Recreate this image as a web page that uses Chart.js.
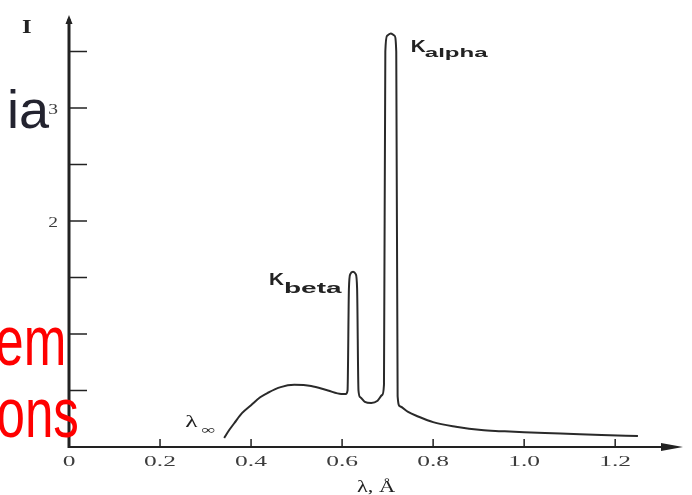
<!DOCTYPE html>
<html>
<head>
<meta charset="utf-8">
<script src="https://cdn.jsdelivr.net/npm/chart.js@4.4.1/dist/chart.umd.min.js"></script>
<style>
html, body { margin: 0; padding: 0; background: #fff; }
#wrap { position: relative; width: 692px; height: 495px; overflow: hidden; }
#spectrum { position: absolute; left: 0; top: 0; }
.slide { position: absolute; font-family: 'Liberation Sans', Arial, sans-serif; line-height: 1; white-space: nowrap; }
.squeezed { transform: scaleX(0.73); transform-origin: right top; }
</style>
</head>
<body>
<div id="wrap">
  <canvas id="spectrum" width="692" height="495"></canvas>
  <div class="slide" style="right:643px;top:82px;font-size:54px;color:#23232f">ia</div>
  <div class="slide squeezed" style="right:626px;top:306px;font-size:70px;color:#ff0000">em</div>
  <div class="slide squeezed" style="right:613px;top:378px;font-size:70px;color:#ff0000">ons</div>
</div>
<script>
// wavelength (Å) and relative intensity
const wavelength = [0.341, 0.352, 0.363, 0.380, 0.400, 0.420, 0.437, 0.465, 0.495, 0.532,
  0.569, 0.598, 0.608, 0.612, 0.615, 0.618, 0.624, 0.630, 0.633, 0.636,
  0.640, 0.650, 0.664, 0.678, 0.688, 0.692, 0.695, 0.699, 0.707, 0.715,
  0.719, 0.722, 0.727, 0.745, 0.767, 0.800, 0.850, 0.906, 0.950, 1.000,
  1.080, 1.170, 1.250];
const intensity = [0.08, 0.15, 0.21, 0.30, 0.37, 0.44, 0.48, 0.53, 0.55, 0.54,
  0.50, 0.47, 0.47, 0.50, 1.40, 1.53, 1.55, 1.53, 1.40, 0.50,
  0.44, 0.40, 0.39, 0.41, 0.46, 0.55, 3.50, 3.64, 3.66, 3.64,
  3.50, 0.45, 0.36, 0.31, 0.27, 0.22, 0.18, 0.15, 0.14, 0.13,
  0.12, 0.106, 0.097];

const xTickValues = [0, 0.2, 0.4, 0.6, 0.8, 1.0, 1.2];
const xTickLabels = ['0', '0.2', '0.4', '0.6', '0.8', '1.0', '1.2'];
const yTickValues = [0.5, 1, 1.5, 2, 2.5, 3, 3.5];
const yTickLabels = ['', '', '', '2', '', '3', ''];

const ink = '#222222';
const serif = "'Liberation Serif', 'DejaVu Serif', serif";
const sans = "'Liberation Sans', Arial, sans-serif";

// scanned figure text is stretched sideways, so draw it with a horizontal scale
function stretchText(ctx, text, x, y, sx, align) {
  ctx.save();
  ctx.translate(x, y);
  ctx.scale(sx, 1);
  ctx.textAlign = align || 'left';
  ctx.textBaseline = 'alphabetic';
  ctx.fillText(text, 0, 0);
  ctx.restore();
}

const axesPlugin = {
  id: 'axesPlugin',
  beforeDatasetsDraw(chart) {
    const ctx = chart.ctx;
    const xs = chart.scales.x, ys = chart.scales.y;
    const x0 = xs.getPixelForValue(0);
    const y0 = ys.getPixelForValue(0);
    const xEnd = chart.chartArea.right;
    const yTop = chart.chartArea.top;
    ctx.save();
    ctx.strokeStyle = ink;
    ctx.fillStyle = ink;
    // y axis with small arrow
    ctx.lineWidth = 3;
    ctx.beginPath();
    ctx.moveTo(x0, y0 + 1);
    ctx.lineTo(x0, yTop + 4);
    ctx.stroke();
    ctx.beginPath();
    ctx.moveTo(x0, yTop);
    ctx.lineTo(x0 - 3.5, yTop + 9);
    ctx.lineTo(x0 + 3.5, yTop + 9);
    ctx.closePath();
    ctx.fill();
    // x axis with arrow
    ctx.lineWidth = 2;
    ctx.beginPath();
    ctx.moveTo(x0, y0);
    ctx.lineTo(xEnd - 10, y0);
    ctx.stroke();
    ctx.beginPath();
    ctx.moveTo(xEnd, y0);
    ctx.lineTo(xEnd - 22, y0 - 4);
    ctx.lineTo(xEnd - 22, y0 + 4);
    ctx.closePath();
    ctx.fill();
    // inward tick marks
    ctx.lineWidth = 1.5;
    xTickValues.forEach(v => {
      if (v === 0) return;
      const px = xs.getPixelForValue(v);
      ctx.beginPath();
      ctx.moveTo(px, y0);
      ctx.lineTo(px, y0 - 8);
      ctx.stroke();
    });
    yTickValues.forEach(v => {
      const py = ys.getPixelForValue(v);
      ctx.beginPath();
      ctx.moveTo(x0, py);
      ctx.lineTo(x0 + 18, py);
      ctx.stroke();
    });
    // tick labels
    ctx.fillStyle = '#3c3c3c';
    ctx.font = '15px ' + serif;
    xTickValues.forEach((v, i) => {
      stretchText(ctx, xTickLabels[i], xs.getPixelForValue(v), y0 + 19, 1.7, 'center');
    });
    yTickValues.forEach((v, i) => {
      if (!yTickLabels[i]) return;
      stretchText(ctx, yTickLabels[i], x0 - 11, ys.getPixelForValue(v) + 6, 1.3, 'right');
    });
    ctx.restore();
  },
  afterDraw(chart) {
    const ctx = chart.ctx;
    const xs = chart.scales.x, ys = chart.scales.y;
    ctx.save();
    ctx.fillStyle = ink;
    // axis names
    ctx.font = 'bold 19px ' + serif;
    stretchText(ctx, 'I', 22, 33, 1.3);
    ctx.font = '16px ' + serif;
    stretchText(ctx, 'λ, Å', (xs.left + xs.right) / 2, 492, 1.4, 'center');
    // peak labels
    const ax = xs.getPixelForValue(0.707), ay = ys.getPixelForValue(3.66);
    ctx.font = 'bold 17px ' + sans;
    stretchText(ctx, 'K', ax + 20, ay + 19, 1.22);
    ctx.font = 'bold 13px ' + sans;
    stretchText(ctx, 'alpha', ax + 34, ay + 24, 1.85);
    const bx = xs.getPixelForValue(0.624), by = ys.getPixelForValue(1.55);
    ctx.font = 'bold 17px ' + sans;
    stretchText(ctx, 'K', bx - 84, by + 13, 1.22);
    ctx.font = 'bold 14px ' + sans;
    stretchText(ctx, 'beta', bx - 69, by + 21, 2.0);
    // short-wavelength limit
    const sx = xs.getPixelForValue(wavelength[0]), sy = ys.getPixelForValue(intensity[0]);
    ctx.font = '16px ' + serif;
    stretchText(ctx, 'λ', sx - 39, sy - 11, 1.6);
    ctx.font = '13px ' + serif;
    stretchText(ctx, '∞', sx - 23, sy - 4, 1.5);
    ctx.restore();
  }
};

new Chart(document.getElementById('spectrum'), {
  type: 'line',
  data: {
    datasets: [{
      label: 'X-ray spectrum',
      data: wavelength.map((w, i) => ({ x: w, y: intensity[i] })),
      borderColor: '#2a2a2a',
      borderWidth: 2,
      pointRadius: 0,
      fill: false,
      cubicInterpolationMode: 'monotone'
    }]
  },
  options: {
    responsive: false,
    animation: false,
    devicePixelRatio: 1,
    layout: { padding: { top: 15, right: 9, left: 0, bottom: 0 } },
    plugins: { legend: { display: false }, tooltip: { enabled: false } },
    scales: {
      x: {
        type: 'linear',
        min: 0,
        max: 1.349,
        grid: { display: false, drawTicks: false },
        border: { display: false },
        ticks: { display: false },
        afterFit: s => { s.height = 48; }
      },
      y: {
        min: 0,
        max: 3.823,
        grid: { display: false, drawTicks: false },
        border: { display: false },
        ticks: { display: false },
        afterFit: s => { s.width = 69; }
      }
    }
  },
  plugins: [axesPlugin]
});
</script>
</body>
</html>
